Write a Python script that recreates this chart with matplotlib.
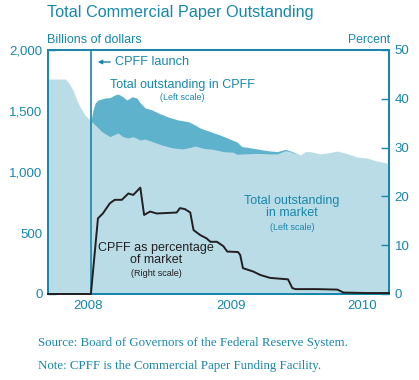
"""Total commercial paper outstanding vs CPFF holdings (Fed chart recreation)."""
import matplotlib
matplotlib.use('Agg')
import matplotlib.dates as mdates
import matplotlib.pyplot as plt
import numpy as np
import pandas as pd
from matplotlib.ticker import FixedLocator

TEAL = '#1886ab'
LIGHT = '#b9dce7'
DARK = '#5fb2cb'
LINE = '#231f20'

# Total outstanding in market, billions (left scale)
mkt_dates = ['2008-08-02', '2008-09-02', '2008-09-08', '2008-09-17', '2008-09-24',
             '2008-09-30', '2008-10-09', '2008-10-18', '2008-10-28', '2008-11-09',
             '2008-11-24', '2008-12-09', '2008-12-18', '2008-12-27', '2009-01-06',
             '2009-01-19', '2009-01-28', '2009-02-10', '2009-02-28', '2009-03-18',
             '2009-04-06', '2009-04-21', '2009-04-30', '2009-05-15', '2009-06-02',
             '2009-06-21', '2009-07-09', '2009-07-16', '2009-07-27', '2009-08-22',
             '2009-09-15', '2009-09-28', '2009-10-13', '2009-10-22', '2009-11-04',
             '2009-11-09', '2009-11-19', '2009-11-28', '2009-12-16', '2010-01-04',
             '2010-01-17', '2010-01-31', '2010-02-22', '2010-03-12', '2010-03-30',
             '2010-04-22']
mkt_bn = [1762, 1762, 1740, 1672, 1590,
          1533, 1467, 1426, 1385, 1331,
          1290, 1320, 1290, 1279, 1290,
          1262, 1270, 1249, 1221, 1199,
          1189, 1202, 1213, 1194, 1186,
          1167, 1162, 1145, 1148, 1153,
          1148, 1148, 1175, 1167, 1148,
          1139, 1167, 1167, 1148, 1160,
          1172, 1156, 1123, 1115, 1090,
          1070]

# Market plus CPFF holdings, billions (top of the dark band)
cpff_dates = ['2008-10-20', '2008-10-24', '2008-10-28', '2008-11-02', '2008-11-15',
              '2008-11-24', '2008-12-03', '2008-12-09', '2008-12-18', '2008-12-25',
              '2009-01-04', '2009-01-13', '2009-01-19', '2009-01-28', '2009-02-10',
              '2009-02-21', '2009-03-11', '2009-03-30', '2009-04-17', '2009-04-30',
              '2009-05-09', '2009-05-28', '2009-06-15', '2009-07-03', '2009-07-16',
              '2009-07-25', '2009-07-31', '2009-08-22', '2009-09-10', '2009-09-28',
              '2009-10-13', '2009-10-28', '2009-11-09']
cpff_top_bn = [1415, 1510, 1566, 1590, 1607,
               1610, 1631, 1639, 1617, 1590,
               1617, 1605, 1566, 1525, 1508,
               1484, 1451, 1426, 1413, 1385,
               1361, 1331, 1303, 1270, 1246,
               1208, 1205, 1189, 1175, 1167,
               1186, 1164, 1139]

# CPFF as percentage of market (right scale)
pct_dates = ['2008-08-02', '2008-10-20', '2008-11-02', '2008-11-11', '2008-11-24',
             '2008-12-03', '2008-12-16', '2008-12-28', '2009-01-06', '2009-01-19',
             '2009-01-26', '2009-02-06', '2009-02-18', '2009-03-09', '2009-03-27',
             '2009-04-02', '2009-04-11', '2009-04-21', '2009-04-27', '2009-05-09',
             '2009-05-21', '2009-05-28', '2009-06-09', '2009-06-21', '2009-06-28',
             '2009-07-18', '2009-07-22', '2009-07-27', '2009-08-15', '2009-08-28',
             '2009-09-15', '2009-10-18', '2009-10-26', '2009-11-01', '2009-12-11',
             '2010-01-17', '2010-01-28', '2010-03-12', '2010-04-22']
pct = [0, 0, 15.5, 16.5, 18.6,
       19.3, 19.3, 20.6, 20.3, 21.8,
       16.2, 16.9, 16.5, 16.6, 16.7,
       17.6, 17.4, 16.7, 13.1, 12.1,
       11.4, 10.7, 10.7, 9.8, 8.7,
       8.6, 8.0, 5.3, 4.6, 3.9,
       3.3, 3.0, 1.2, 1.0, 1.0,
       0.9, 0.3, 0.2, 0.2]

LAUNCH = '2008-10-20'
X_START, X_END = '2008-08-02', '2010-04-22'
left_ticks = [0, 500, 1000, 1500, 2000]
right_ticks = [0, 10, 20, 30, 40, 50]
year_labels = ['2008', '2009', '2010']
year_label_dates = ['2008-10-15', '2009-07-05', '2010-03-03']

plt.rcParams['font.family'] = ['Liberation Sans', 'DejaVu Sans']

fig = plt.figure(figsize=(4.19, 3.80), dpi=100)
ax = fig.add_axes([48 / 419, 1 - 294 / 380, 341 / 419, 244 / 380])

md = pd.to_datetime(mkt_dates)
cd = pd.to_datetime(cpff_dates)
pdts = pd.to_datetime(pct_dates)

# dark band first, light market area drawn over it
ax.fill_between(cd, 0, cpff_top_bn, color=DARK, lw=0, zorder=1)
ax.fill_between(md, 0, mkt_bn, color=LIGHT, lw=0, zorder=2)
ax.axvline(pd.Timestamp(LAUNCH), color=TEAL, lw=1.2, zorder=4)

ax.set_xlim(pd.Timestamp(X_START), pd.Timestamp(X_END))
ax.set_ylim(0, 2000)
ax.yaxis.set_major_locator(FixedLocator(left_ticks))
ax.set_yticklabels([f'{v:,}' for v in left_ticks])

ax.xaxis.set_major_locator(mdates.YearLocator())
ax.xaxis.set_minor_locator(mdates.MonthLocator())
ax.xaxis.set_major_formatter(plt.NullFormatter())
ax.tick_params(axis='x', which='major', direction='in', length=12, width=1.0, color=TEAL)
ax.tick_params(axis='x', which='minor', direction='in', length=4.5, width=0.8, color=TEAL)
ax.tick_params(axis='y', direction='in', length=6, width=1.0, color=TEAL,
               labelcolor=TEAL, labelsize=9.5, pad=4)

for lab, d in zip(year_labels, year_label_dates):
    ax.text(pd.Timestamp(d), -0.05, lab, transform=ax.get_xaxis_transform(),
            ha='center', va='center', color=TEAL, fontsize=9.5)

ax2 = ax.twinx()
ax2.plot(pdts, pct, color=LINE, lw=1.4, zorder=5, clip_on=False)
ax2.set_ylim(0, 50)
ax2.yaxis.set_major_locator(FixedLocator(right_ticks))
ax2.tick_params(axis='y', direction='in', length=6, width=1.0, color=TEAL,
                labelcolor=TEAL, labelsize=9.5, pad=4)
ax2.set_xlim(pd.Timestamp(X_START), pd.Timestamp(X_END))

for a in (ax, ax2):
    for sp in a.spines.values():
        sp.set_color(TEAL)
        sp.set_linewidth(1.3)
ax.set_zorder(ax2.get_zorder() - 1)
ax2.patch.set_visible(False)

# annotations
ax.annotate('', xy=(95 / 419, 1 - 62 / 380), xytext=(113 / 419, 1 - 62 / 380),
            xycoords='figure fraction', textcoords='figure fraction',
            arrowprops=dict(arrowstyle='-|>', color=TEAL, lw=1.0, mutation_scale=6))
fig.text(115 / 419, 1 - 62 / 380, 'CPFF launch', color=TEAL, fontsize=9.2, va='center')
fig.text(182 / 419, 1 - 85 / 380, 'Total outstanding in CPFF', color=TEAL,
         fontsize=9, ha='center', va='center')
fig.text(182 / 419, 1 - 98 / 380, '(Left scale)', color=TEAL, fontsize=6.5,
         ha='center', va='center')
fig.text(292 / 419, 1 - 207 / 380, 'Total outstanding\nin market', color=TEAL,
         fontsize=9, ha='center', va='center', linespacing=1.05)
fig.text(292 / 419, 1 - 227 / 380, '(Left scale)', color=TEAL, fontsize=6.5,
         ha='center', va='center')
fig.text(156 / 419, 1 - 254 / 380, 'CPFF as percentage\nof market', color=LINE,
         fontsize=9, ha='center', va='center', linespacing=1.05)
fig.text(156 / 419, 1 - 273 / 380, '(Right scale)', color=LINE, fontsize=6.5,
         ha='center', va='center')

fig.text(47 / 419, 1 - 12 / 380, 'Total Commercial Paper Outstanding', color=TEAL,
         fontsize=11.7, va='center')
fig.text(47 / 419, 1 - 40 / 380, 'Billions of dollars', color=TEAL, fontsize=9,
         va='center')
fig.text(390 / 419, 1 - 40 / 380, 'Percent', color=TEAL, fontsize=8.8,
         va='center', ha='right')

serif = ['Liberation Serif', 'DejaVu Serif']
fig.text(38 / 419, 1 - 343 / 380, 'Source: Board of Governors of the Federal Reserve System.',
         color=TEAL, fontsize=9.3, va='center', family=serif)
fig.text(38 / 419, 1 - 366 / 380, 'Note: CPFF is the Commercial Paper Funding Facility.',
         color=TEAL, fontsize=9.3, va='center', family=serif)

fig.savefig('out.png', dpi=100)
